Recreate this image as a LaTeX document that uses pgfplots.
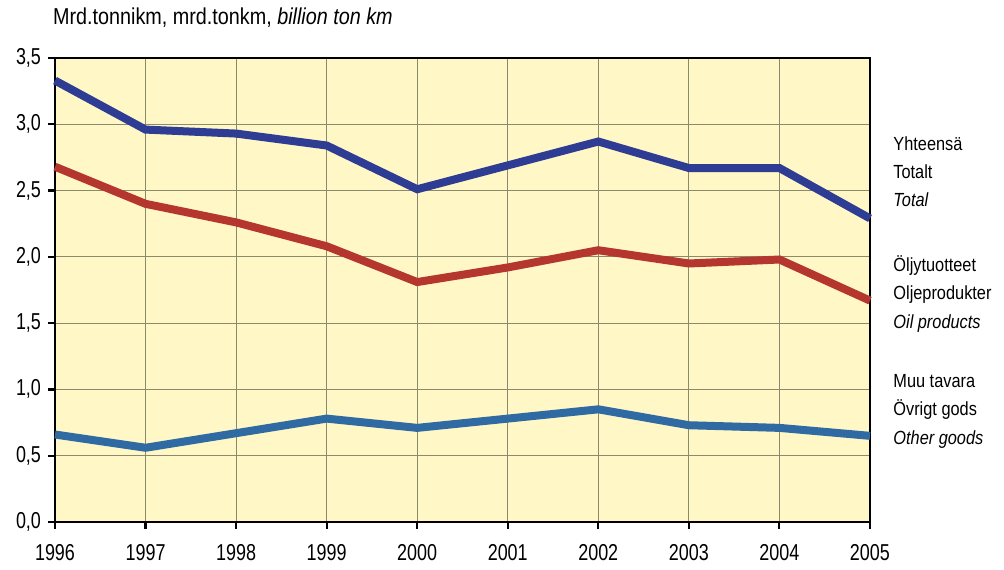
\documentclass[border=0pt]{standalone}
\usepackage{fontspec}
\setmainfont[FakeStretch=0.86]{Liberation Sans}
\newfontfamily\ticknarrow[FakeStretch=0.78]{Liberation Sans}
\usepackage{pgfplots}
\pgfplotsset{compat=1.18}
\usepackage{pgfplotstable}

\definecolor{bgyellow}{HTML}{FFF8C6}
\definecolor{totalblue}{HTML}{2F3C94}
\definecolor{oilred}{HTML}{B4362F}
\definecolor{otherblue}{HTML}{2F6AA2}
\definecolor{gridcol}{HTML}{8C8A6C}

\pgfplotstableread{
year total oil other
1996 3.33 2.68 0.66
1997 2.96 2.40 0.56
1998 2.93 2.26 0.67
1999 2.84 2.08 0.78
2000 2.51 1.81 0.71
2001 2.69 1.92 0.78
2002 2.87 2.05 0.85
2003 2.67 1.95 0.73
2004 2.67 1.98 0.71
2005 2.29 1.67 0.65
}\freight

\begin{document}
\begin{tikzpicture}[font=\fontsize{10.5}{12}\selectfont]
% 1 px of the reference = 0.5pt
\useasboundingbox (0,0) rectangle (502pt,284.5pt);
\begin{axis}[
    at={(27.5pt,23.5pt)}, anchor=south west,
    scale only axis,
    width=407.5pt, height=232pt,
    xmin=1996, xmax=2005, ymin=0, ymax=3.5,
    xtick={1996,...,2005},
    ytick={0,0.5,...,3.5},
    axis background/.style={fill=bgyellow},
    grid=major,
    major grid style={gridcol, line width=0.45pt},
    axis line style={black, line width=1.3pt},
    tick style={black, line width=1.1pt},
    tick align=outside,
    xtick pos=bottom, ytick pos=left,
    major tick length=3.5pt,
    /pgf/number format/assume math mode=true,
    ticklabel style={font=\ticknarrow\fontsize{11.5}{13}\selectfont},
    xticklabel style={/pgf/number format/1000 sep={}, yshift=-4pt},
    yticklabel style={/pgf/number format/.cd, fixed, fixed zerofill, precision=1, use comma},
    clip=false,
]
\addplot[totalblue, line width=4pt] table[x=year, y=total] {\freight};
\addplot[oilred, line width=4pt] table[x=year, y=oil] {\freight};
\addplot[otherblue, line width=4pt] table[x=year, y=other] {\freight};
\end{axis}
\node[anchor=west, font=\fontsize{11.5}{13}\selectfont] at (23pt,275.5pt)
  {Mrd.tonnikm, mrd.tonkm, \textit{billion ton km}};
\begin{scope}[every node/.style={anchor=north west, align=left, inner sep=0pt,
    font=\fontsize{9.5}{14.2}\selectfont}]
\node at (446.5pt,216.5pt) {Yhteensä\\Totalt\\\textit{Total}};
\node at (446.5pt,157pt) {Öljytuotteet\\Oljeprodukter\\\textit{Oil products}};
\node at (446.5pt,97.5pt) {Muu tavara\\Övrigt gods\\\textit{Other goods}};
\end{scope}
\end{tikzpicture}
\end{document}
